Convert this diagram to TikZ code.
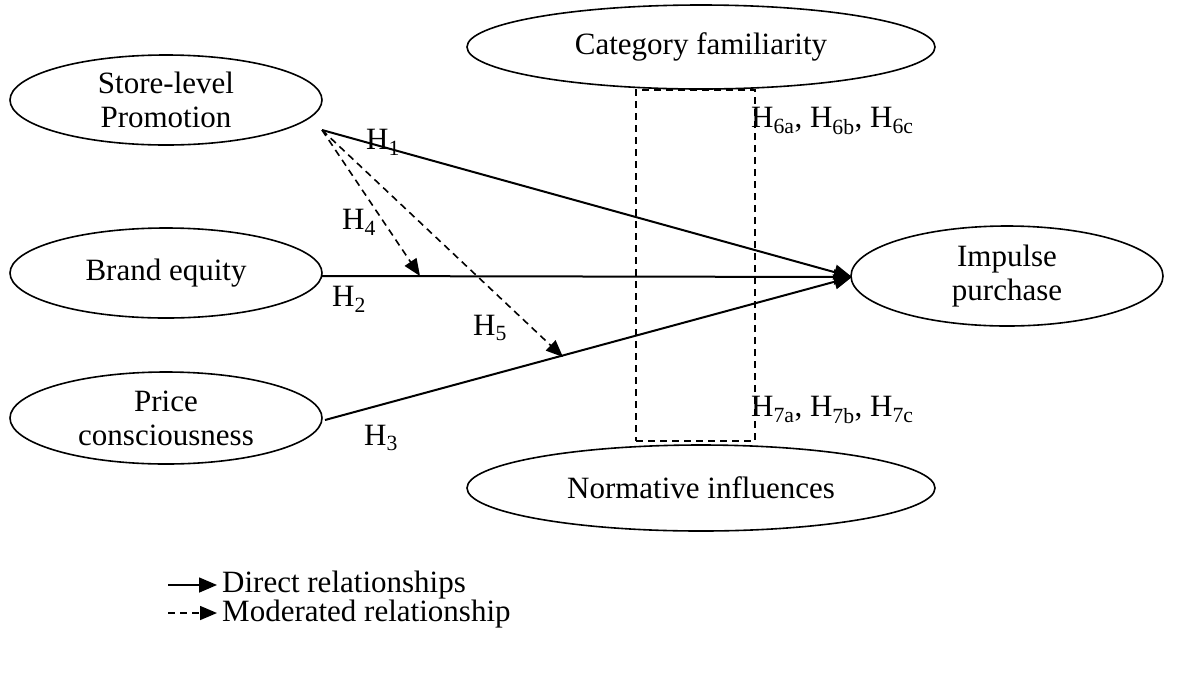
\documentclass[tikz,border=0pt]{standalone}
\usepackage{fontspec}
\setmainfont{Liberation Serif}
\usetikzlibrary{shapes.geometric,arrows.meta}
\begin{document}
\begin{tikzpicture}[x=1pt,y=-1pt,
  oval/.style={draw,ellipse,line width=1.6pt,minimum width=#1,align=center,font=\fontsize{31}{34}\selectfont,inner sep=0pt},
  lbl/.style={font=\fontsize{31}{34}\selectfont,inner sep=0pt},
  dir/.style={line width=2pt,-{Triangle[length=18pt,width=15pt]}},
  mod/.style={line width=1.6pt,dash pattern=on 7pt off 5pt,-{Triangle[length=17pt,width=14pt]}}]
\useasboundingbox (0,0) rectangle (1185,673);
\node[oval=312,minimum height=90] (slp) at (166,100) {Store-level\\Promotion};
\node[oval=312,minimum height=90] (be) at (166,273) {Brand equity};
\node[oval=312,minimum height=92] (pc) at (166,418) {Price\\consciousness};
\node[oval=468,minimum height=84] (cf) at (701,47) {Category familiarity};
\node[oval=468,minimum height=86] (ni) at (701,488) {Normative influences};
\node[oval=312,minimum height=100] (ip) at (1007,276) {Impulse\\purchase};
\coordinate (s1) at (322,130);
\coordinate (t) at (852,277);
\coordinate (b1) at (322,276);
\coordinate (p1) at (325,420);
\coordinate (m4) at (420,276);
\coordinate (m5) at (563,357);
\draw[dir] (s1) -- (t);
\draw[dir] (b1) -- (t);
\draw[dir] (p1) -- (t);
\draw[mod] (s1) -- (m4);
\draw[mod] (s1) -- (m5);
\node[draw,dash pattern=on 7pt off 5pt,line width=1.6pt,minimum width=119,minimum height=351,inner sep=0pt] (box) at (695.5,265.5) {};
\node[lbl] (h1) at (383,142) {H\textsubscript{1}};
\node[lbl] (h4) at (359,222) {H\textsubscript{4}};
\node[lbl] (h2) at (349,299) {H\textsubscript{2}};
\node[lbl] (h5) at (490,328) {H\textsubscript{5}};
\node[lbl] (h3) at (381,438) {H\textsubscript{3}};
\node[lbl,anchor=west] (h6) at (751,121) {H\textsubscript{6a}, H\textsubscript{6b}, H\textsubscript{6c}};
\node[lbl,anchor=west] (h7) at (751,410) {H\textsubscript{7a}, H\textsubscript{7b}, H\textsubscript{7c}};
\coordinate (l1a) at (168,585);
\coordinate (l1b) at (217,585);
\coordinate (l2a) at (168,613);
\coordinate (l2b) at (217,613);
\draw[dir,line width=1.6pt] (l1a) -- (l1b);
\draw[mod] (l2a) -- (l2b);
\node[lbl,anchor=west] (lg1) at (222,585) {Direct relationships};
\node[lbl,anchor=west] (lg2) at (222,614) {Moderated relationship};
\end{tikzpicture}
\end{document}
